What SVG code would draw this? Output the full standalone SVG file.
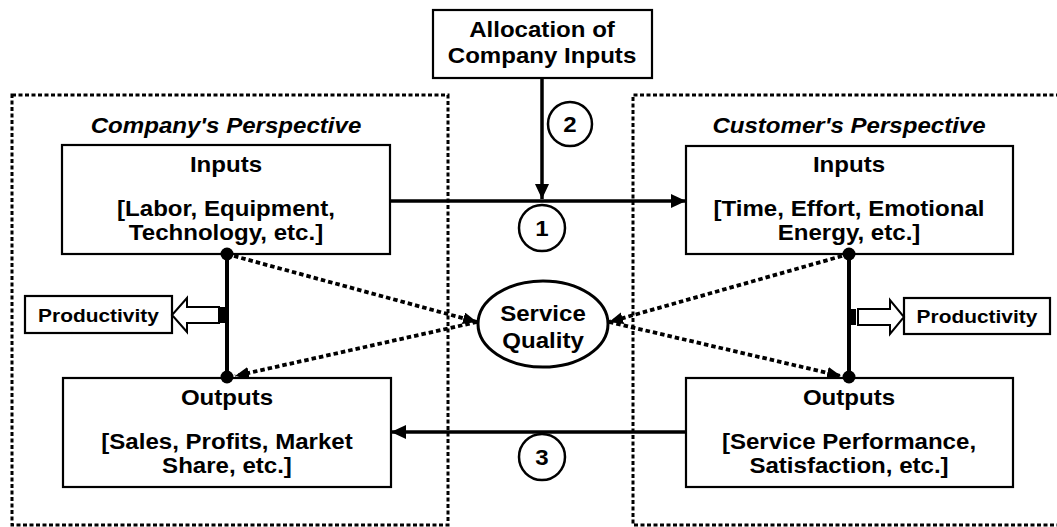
<svg xmlns="http://www.w3.org/2000/svg" width="1057" height="527" viewBox="0 0 1057 527">
  <defs>
    <style>
      .t { font-family: "Liberation Sans", Arial, Helvetica, sans-serif; font-weight: bold; font-size: 21.5px; text-anchor: middle; fill: #000; }
      .ti { font-style: italic; }
      .ts { font-size: 19px; }
      .box { fill: #fff; stroke: #000; stroke-width: 2.2; }
      .region { fill: none; stroke: #000; stroke-width: 3; stroke-dasharray: 4 2.5; }
      .flow { fill: none; stroke: #000; stroke-width: 3.5; }
      .link { fill: none; stroke: #000; stroke-width: 4; }
      .dash { fill: none; stroke: #000; stroke-width: 3.8; stroke-dasharray: 4.5 3; }
      .num { fill: #fff; stroke: #000; stroke-width: 2.5; }
      .hollow { fill: #fff; stroke: #000; stroke-width: 2; stroke-linejoin: miter; }
    </style>
    <marker id="arr" viewBox="0 0 15 14" refX="15" refY="7" markerWidth="15" markerHeight="14" markerUnits="userSpaceOnUse" orient="auto">
      <path d="M0,0 L15,7 L0,14 z" fill="#000"/>
    </marker>
    <marker id="darr" viewBox="0 0 14 12" refX="14" refY="6" markerWidth="14" markerHeight="12" markerUnits="userSpaceOnUse" orient="auto">
      <path d="M0,0 L14,6 L0,12 z" fill="#000"/>
    </marker>
  </defs>

  <rect width="1057" height="527" fill="#fff"/>

  <!-- perspective regions -->
  <g id="company-region">
    <rect class="region" x="12" y="95" width="436" height="430"/>
    <text class="t ti" transform="translate(226 133) scale(1.12 1)">Company's Perspective</text>
  </g>
  <g id="customer-region">
    <path class="region" d="M1060,95 H633 V525 H1060"/>
    <text class="t ti" transform="translate(849 133) scale(1.12 1)">Customer's Perspective</text>
  </g>

  <!-- nodes -->
  <g id="allocation">
    <rect class="box" x="433" y="10" width="219" height="68"/>
    <text class="t" transform="translate(542 37) scale(1.12 1)">Allocation of</text>
    <text class="t" transform="translate(542 63) scale(1.12 1)">Company Inputs</text>
  </g>

  <g id="company-inputs">
    <rect class="box" x="62" y="145" width="328" height="109"/>
    <text class="t" transform="translate(226 172) scale(1.12 1)">Inputs</text>
    <text class="t" transform="translate(226 216) scale(1.12 1)">[Labor, Equipment,</text>
    <text class="t" transform="translate(226 240) scale(1.12 1)">Technology, etc.]</text>
  </g>

  <g id="company-outputs">
    <rect class="box" x="63" y="378" width="328" height="109"/>
    <text class="t" transform="translate(227 405) scale(1.12 1)">Outputs</text>
    <text class="t" transform="translate(227 449) scale(1.12 1)">[Sales, Profits, Market</text>
    <text class="t" transform="translate(227 473) scale(1.12 1)">Share, etc.]</text>
  </g>

  <g id="company-productivity">
    <rect class="box" x="25" y="296" width="147" height="37"/>
    <text class="t ts" transform="translate(98.5 321.5) scale(1.1 1)">Productivity</text>
  </g>

  <g id="customer-inputs">
    <rect class="box" x="686" y="146" width="327" height="108"/>
    <text class="t" transform="translate(849 172) scale(1.12 1)">Inputs</text>
    <text class="t" transform="translate(849 216) scale(1.12 1)">[Time, Effort, Emotional</text>
    <text class="t" transform="translate(849 240) scale(1.12 1)">Energy, etc.]</text>
  </g>

  <g id="customer-outputs">
    <rect class="box" x="686" y="378" width="327" height="109"/>
    <text class="t" transform="translate(849 405) scale(1.12 1)">Outputs</text>
    <text class="t" transform="translate(849 449) scale(1.12 1)">[Service Performance,</text>
    <text class="t" transform="translate(849 473) scale(1.12 1)">Satisfaction, etc.]</text>
  </g>

  <g id="customer-productivity">
    <rect class="box" x="904" y="298" width="146" height="36"/>
    <text class="t ts" transform="translate(977 323) scale(1.1 1)">Productivity</text>
  </g>

  <g id="service-quality">
    <ellipse cx="543" cy="324" rx="65" ry="43" fill="#fff" stroke="#000" stroke-width="3"/>
    <text class="t" transform="translate(543 320.5) scale(1.12 1)">Service</text>
    <text class="t" transform="translate(543 347.5) scale(1.12 1)">Quality</text>
  </g>

  <!-- connectors, drawn on top so the joint dots sit over the box edges -->
  <g id="connectors">
    <!-- 1: company inputs to customer inputs -->
    <line class="flow" x1="390" y1="201" x2="686" y2="201" marker-end="url(#arr)"/>
    <!-- 2: allocation of inputs -->
    <line class="flow" x1="542" y1="79" x2="542" y2="199" marker-end="url(#arr)"/>
    <!-- 3: customer outputs back to company outputs -->
    <line class="flow" x1="686" y1="432" x2="391" y2="432" marker-end="url(#arr)"/>

    <!-- inputs to outputs links -->
    <line class="link" x1="227" y1="254" x2="227" y2="377"/>
    <line class="link" x1="849" y1="254" x2="849" y2="377"/>
    <circle cx="227" cy="254" r="6.5" fill="#000"/>
    <circle cx="227" cy="377" r="6.5" fill="#000"/>
    <circle cx="849" cy="254" r="6.5" fill="#000"/>
    <circle cx="849" cy="377" r="6.5" fill="#000"/>

    <!-- service quality links -->
    <line class="dash" x1="234" y1="256" x2="477" y2="322" marker-end="url(#darr)"/>
    <line class="dash" x1="477" y1="322" x2="235" y2="376" marker-end="url(#darr)"/>
    <line class="dash" x1="842" y1="256" x2="609" y2="322" marker-end="url(#darr)"/>
    <line class="dash" x1="609" y1="322" x2="841" y2="376" marker-end="url(#darr)"/>

    <!-- productivity arrows -->
    <polygon class="hollow" points="219,307 187,307 187,298 172,315 187,332 187,323 219,323"/>
    <rect x="220" y="307" width="5" height="16" fill="#000"/>
    <polygon class="hollow" points="858,309 890,309 890,300 904,317 890,334 890,325 858,325"/>
    <rect x="851" y="309" width="5" height="16" fill="#000"/>

    <!-- step numbers -->
    <circle class="num" cx="542" cy="228" r="23"/>
    <text class="t" transform="translate(542 235.5) scale(1.12 1)">1</text>
    <circle class="num" cx="570" cy="124" r="22"/>
    <text class="t" transform="translate(570 131.5) scale(1.12 1)">2</text>
    <circle class="num" cx="542" cy="457" r="23"/>
    <text class="t" transform="translate(542 464.5) scale(1.12 1)">3</text>
  </g>
</svg>
